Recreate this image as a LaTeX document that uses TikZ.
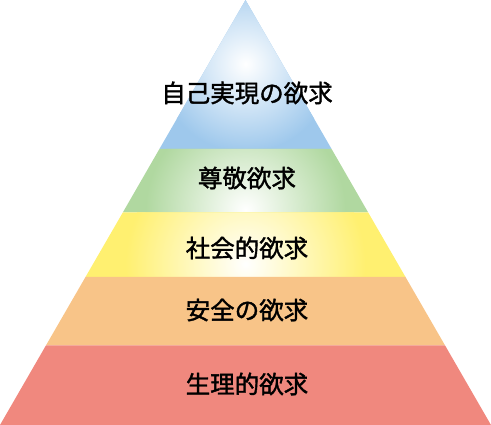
\documentclass[tikz,border=0pt]{standalone}
\usepackage{fontspec}
\newfontfamily\jp[FakeBold=1.5]{Noto Sans CJK JP}
\usepackage{tikz}

\definecolor{bluecol}{RGB}{158,200,236}
\definecolor{greencol}{RGB}{176,216,160}
\definecolor{yellowcol}{RGB}{255,240,112}
\definecolor{orangecol}{RGB}{248,196,136}
\definecolor{redcol}{RGB}{240,136,126}

\begin{document}
\begin{tikzpicture}[x=1pt,y=-1pt,
  lvl/.style={font=\jp\fontsize{24.5}{24.5}\selectfont,inner sep=0pt}]
  \useasboundingbox (0,0) rectangle (491,425);

  \coordinate (top) at (245.5,0);
  \coordinate (l1) at (159.4,149);   \coordinate (r1) at (331.6,149);
  \coordinate (l2) at (122.8,212.5); \coordinate (r2) at (368.2,212.5);
  \coordinate (l3) at (85.5,277);    \coordinate (r3) at (405.5,277);
  \coordinate (l4) at (45.9,345.5);  \coordinate (r4) at (445.1,345.5);
  \coordinate (l5) at (0,425);       \coordinate (r5) at (491,425);

  % self-actualisation
  \fill[bluecol] (top) -- (r1) -- (l1) -- cycle;
  \begin{scope}
    \clip (top) -- (r1) -- (l1) -- cycle;
    \shade[inner color=white,outer color=bluecol] (245.5,64) circle (88);
  \end{scope}

  % esteem
  \fill[greencol] (l1) -- (r1) -- (r2) -- (l2) -- cycle;
  \begin{scope}
    \clip (l1) -- (r1) -- (r2) -- (l2) -- cycle;
    \shade[inner color=white,outer color=greencol] (245.5,210) circle (100);
  \end{scope}

  % social
  \fill[yellowcol] (l2) -- (r2) -- (r3) -- (l3) -- cycle;
  \begin{scope}
    \clip (l2) -- (r2) -- (r3) -- (l3) -- cycle;
    \shade[inner color=white,outer color=yellowcol] (245.5,264) circle (120);
  \end{scope}

  \fill[orangecol] (l3) -- (r3) -- (r4) -- (l4) -- cycle;
  \fill[redcol] (l4) -- (r4) -- (r5) -- (l5) -- cycle;

  \node (self) [lvl] at (247,93) {自己実現の欲求};
  \node (esteem) [lvl] at (247,178) {尊敬欲求};
  \node (social) [lvl] at (247,248) {社会的欲求};
  \node (safety) [lvl] at (247,310) {安全の欲求};
  \node (body) [lvl] at (247,384) {生理的欲求};
\end{tikzpicture}
\end{document}
